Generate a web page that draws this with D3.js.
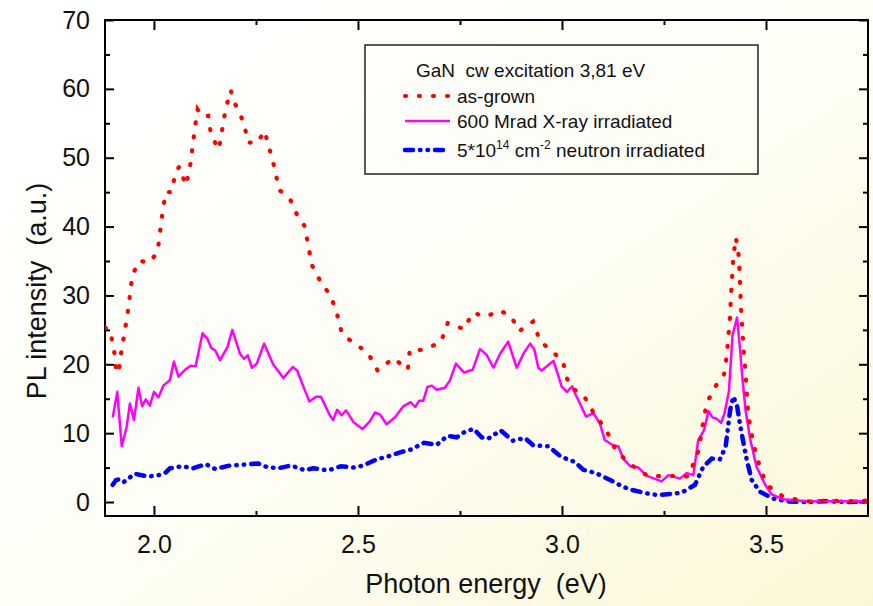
<!DOCTYPE html>
<html>
<head>
<meta charset="utf-8">
<script src="https://cdn.jsdelivr.net/npm/d3@7"></script>
<style>
  body { margin: 0; padding: 0; }
  svg text { font-family: "Liberation Sans", Arial, sans-serif; fill: #111; white-space: pre; }
</style>
</head>
<body>
<div id="my_dataviz"></div>
<script>
// as-grown (red dots)
var grownE = [1.880,1.892,1.902,1.907,1.913,1.919,1.927,1.935,1.941,1.947,1.963,1.990,2.009,2.015,2.021,2.029,2.043,2.053,2.062,2.078,2.088,2.094,2.100,2.107,2.118,2.133,2.140,2.159,2.167,2.175,2.188,2.199,2.221,2.230,2.254,2.271,2.284,2.297,2.306,2.335,2.350,2.370,2.378,2.388,2.411,2.433,2.449,2.461,2.487,2.524,2.548,2.587,2.622,2.627,2.644,2.664,2.703,2.720,2.760,2.781,2.814,2.846,2.874,2.895,2.929,2.946,2.971,3.002,3.013,3.025,3.053,3.077,3.109,3.132,3.167,3.212,3.261,3.310,3.335,3.346,3.355,3.375,3.397,3.404,3.408,3.412,3.414,3.417,3.420,3.426,3.432,3.435,3.437,3.439,3.442,3.445,3.449,3.452,3.455,3.461,3.471,3.485,3.501,3.544,3.600,3.650,3.700,3.748];
var grownI = [25.3,25.0,22.2,19.3,18.7,21.5,24.3,27.2,30.0,32.9,35.0,34.8,36.4,39.3,42.1,45.0,45.0,47.9,48.7,46.0,48.5,51.3,54.2,57.0,56.0,56.1,53.3,51.2,54.0,56.9,59.8,57.8,55.0,52.2,52.2,53.9,51.1,48.2,45.4,43.8,41.8,40.0,37.2,34.3,31.7,30.0,27.2,24.4,23.2,21.7,19.1,20.9,19.2,22.1,22.0,22.2,23.2,26.0,25.1,27.5,26.9,27.8,27.1,24.8,26.2,23.4,22.1,20.5,17.8,16.5,15.5,13.0,10.4,7.5,5.5,3.7,3.8,3.7,7.5,11.6,14.4,16.7,18.5,21.3,24.2,27.0,29.8,32.7,35.6,38.4,36.5,33.7,30.8,27.9,25.1,22.2,19.5,16.7,13.8,10.9,8.0,5.1,2.5,0.7,0.1,0.2,0.1,0.2];

// 600 Mrad X-ray irradiated (magenta)
var xrayE = [1.899,1.910,1.921,1.933,1.941,1.951,1.962,1.971,1.980,1.990,2.000,2.011,2.023,2.039,2.049,2.060,2.076,2.090,2.102,2.119,2.131,2.140,2.150,2.162,2.180,2.192,2.211,2.221,2.230,2.240,2.252,2.270,2.292,2.317,2.340,2.351,2.366,2.381,2.397,2.409,2.431,2.439,2.449,2.460,2.471,2.489,2.511,2.529,2.542,2.554,2.570,2.591,2.611,2.629,2.640,2.650,2.660,2.670,2.681,2.693,2.713,2.725,2.740,2.760,2.781,2.799,2.815,2.832,2.848,2.868,2.889,2.907,2.922,2.932,2.942,2.950,2.979,2.987,2.999,3.012,3.025,3.034,3.044,3.059,3.077,3.093,3.105,3.126,3.138,3.150,3.167,3.187,3.208,3.244,3.261,3.289,3.306,3.322,3.334,3.348,3.359,3.369,3.379,3.390,3.398,3.409,3.418,3.429,3.436,3.442,3.450,3.461,3.477,3.498,3.514,3.542,3.600,3.650,3.700,3.748];
var xrayI = [12.3,16.0,8.1,10.9,14.3,11.9,16.6,13.9,14.9,14.0,16.0,15.2,16.9,17.7,20.4,18.2,19.2,19.8,19.7,24.5,23.7,22.4,22.0,20.6,22.5,25.0,21.5,20.8,21.3,19.5,20.1,23.0,20.0,18.0,19.6,19.1,16.8,14.6,15.3,15.3,12.6,11.9,13.4,12.6,13.3,11.6,10.6,11.7,13.0,12.7,11.3,12.3,13.9,14.5,13.8,14.7,14.7,16.7,16.9,16.3,16.6,17.6,20.1,18.8,19.2,22.2,21.4,19.5,21.5,23.3,19.5,21.7,23.0,22.2,19.5,19.1,20.5,19.1,16.8,16.0,16.8,15.5,14.3,12.4,12.9,11.4,9.0,8.2,8.1,6.3,5.2,5.0,3.8,3.0,3.9,3.4,4.2,3.9,9.0,10.4,13.2,12.3,12.1,11.5,12.8,16.0,24.2,26.8,22.5,18.1,13.3,9.2,5.1,2.5,1.1,0.4,0.1,0.1,0.1,0.1];

// 5*10^14 cm^-2 neutron irradiated (blue dash-dot)
var neutronE = [1.899,1.907,1.917,1.926,1.953,1.986,2.011,2.027,2.039,2.068,2.096,2.127,2.150,2.186,2.215,2.255,2.276,2.305,2.336,2.370,2.390,2.427,2.458,2.489,2.513,2.546,2.577,2.603,2.629,2.662,2.693,2.719,2.742,2.765,2.784,2.803,2.819,2.850,2.879,2.909,2.930,2.967,2.997,3.032,3.052,3.083,3.118,3.150,3.175,3.208,3.236,3.269,3.293,3.326,3.346,3.367,3.387,3.401,3.412,3.420,3.429,3.436,3.445,3.453,3.465,3.485,3.518,3.551,3.600,3.650,3.700,3.748];
var neutronI = [2.5,3.2,3.3,2.9,4.1,3.7,3.9,4.2,4.9,5.2,4.9,5.5,4.8,5.3,5.4,5.6,5.1,4.9,5.3,4.6,4.9,4.6,5.2,5.0,5.3,6.2,6.7,7.2,7.6,8.6,8.3,9.6,9.4,10.3,10.6,9.4,9.2,10.4,8.9,9.3,8.2,8.1,6.6,5.8,4.7,4.2,3.2,2.2,1.7,1.25,1.0,1.2,1.35,2.5,5.1,6.3,6.2,8.0,13.3,15.3,14.0,11.4,8.5,6.1,3.2,1.5,0.5,0.1,0.0,0.1,0.0,0.1];

var xMajor = [2.0, 2.5, 3.0, 3.5];
var xMinor = [2.25, 2.75, 3.25];
var yMajor = [0, 10, 20, 30, 40, 50, 60, 70];
var yMinor = [5, 15, 25, 35, 45, 55, 65];

var margin = {top: 20, right: 5, bottom: 90, left: 105},
width = 873 - margin.left - margin.right,
height = 606 - margin.top - margin.bottom;

var dotDash = '1,13';
var dashDotDot = '8,7,0.5,7,0.5,7';

var root = d3.select('#my_dataviz')
  .append('svg')
    .attr('width', 873)
    .attr('height', 606);

// page background, white fading to pale yellow
var grad = root.append('defs').append('linearGradient')
  .attr('id', 'bg').attr('x1', '0').attr('y1', '0').attr('x2', '1').attr('y2', '1');
grad.append('stop').attr('offset', '0%').attr('stop-color', '#ffffff');
grad.append('stop').attr('offset', '50%').attr('stop-color', '#fefef7');
grad.append('stop').attr('offset', '100%').attr('stop-color', '#fbf7d6');
root.append('rect').attr('width', 873).attr('height', 606).attr('fill', 'url(#bg)');

root.select('defs').append('clipPath').attr('id', 'clip')
  .append('rect').attr('width', width).attr('height', height);

var svg = root.append('g')
  .attr('transform', 'translate(' + margin.left + ',' + margin.top + ')');

var x = d3.scaleLinear().domain([1.88, 3.75]).range([0, width]);
var y = d3.scaleLinear().domain([-2.03, 70]).range([height, 0]);

// axes: ticks point inward, mirrored on top and right
svg.append('g')
  .attr('transform', 'translate(0,' + height + ')')
  .call(d3.axisBottom(x).tickValues(xMajor).tickSize(-10).tickPadding(19).tickFormat(d3.format('.1f')));
svg.append('g')
  .attr('transform', 'translate(0,' + height + ')')
  .call(d3.axisBottom(x).tickValues(xMinor).tickSize(-5).tickFormat(''));
svg.append('g')
  .call(d3.axisTop(x).tickValues(xMajor).tickSize(-10).tickFormat(''));
svg.append('g')
  .call(d3.axisTop(x).tickValues(xMinor).tickSize(-5).tickFormat(''));
svg.append('g')
  .call(d3.axisLeft(y).tickValues(yMajor).tickSize(-9).tickPadding(15));
svg.append('g')
  .call(d3.axisLeft(y).tickValues(yMinor).tickSize(-5).tickFormat(''));
svg.append('g')
  .attr('transform', 'translate(' + width + ',0)')
  .call(d3.axisRight(y).tickValues(yMajor).tickSize(-9).tickFormat(''));
svg.append('g')
  .attr('transform', 'translate(' + width + ',0)')
  .call(d3.axisRight(y).tickValues(yMinor).tickSize(-5).tickFormat(''));

svg.selectAll('.domain').remove();
svg.selectAll('.tick line').attr('stroke', '#000').attr('stroke-width', 2);
svg.selectAll('.tick text')
  .style('font-size', '25px')
  .style('font-family', '"Liberation Sans", Arial, sans-serif')
  .attr('fill', '#111');

svg.append('rect')
  .attr('width', width).attr('height', height)
  .attr('fill', 'none').attr('stroke', '#000').attr('stroke-width', 2);

// curves
function makeLine(es, is) {
  return d3.line()
    .x(function(d, i) { return x(es[i]); })
    .y(function(d, i) { return y(is[i]); })(es);
}
var plot = svg.append('g').attr('clip-path', 'url(#clip)');

plot.append('path')
  .attr('d', makeLine(neutronE, neutronI))
  .attr('fill', 'none').attr('stroke', '#0000ff')
  .attr('stroke-width', 4.5).attr('stroke-linecap', 'round')
  .attr('stroke-dasharray', dashDotDot);

plot.append('path')
  .attr('d', makeLine(xrayE, xrayI))
  .attr('fill', 'none').attr('stroke', '#ff00ff')
  .attr('stroke-width', 2.5).attr('stroke-linejoin', 'round');

plot.append('path')
  .attr('d', makeLine(grownE, grownI))
  .attr('fill', 'none').attr('stroke', '#ff0000')
  .attr('stroke-width', 4.2).attr('stroke-linecap', 'round')
  .attr('stroke-dasharray', dotDash);

// axis titles
root.append('text')
  .attr('x', 486).attr('y', 593)
  .style('text-anchor', 'middle')
  .style('font-size', '27px')
  .text('Photon energy  (eV)');

root.append('text')
  .attr('transform', 'translate(46,291) rotate(-90)')
  .style('text-anchor', 'middle')
  .style('font-size', '27px')
  .text('PL intensity  (a.u.)');

// legend
var lg = root.append('g');
lg.append('rect')
  .attr('x', 365).attr('y', 45).attr('width', 393).attr('height', 129)
  .attr('fill', 'none').attr('stroke', '#222').attr('stroke-width', 1.5);
lg.append('text').attr('x', 416).attr('y', 77).style('font-size', '19px')
  .text('GaN  cw excitation 3,81 eV');

var rows = [
  {yy: 96, color: '#ff0000', w: 4.2, dash: dotDash, cap: 'round', label: 'as-grown'},
  {yy: 121, color: '#ff00ff', w: 2.5, dash: null, cap: 'butt', label: '600 Mrad X-ray irradiated'},
  {yy: 150, color: '#0000ff', w: 4.5, dash: dashDotDot, cap: 'round', label: null}
];
rows.forEach(function(r) {
  lg.append('line')
    .attr('x1', 405).attr('x2', 450).attr('y1', r.yy).attr('y2', r.yy)
    .attr('stroke', r.color).attr('stroke-width', r.w)
    .attr('stroke-linecap', r.cap)
    .attr('stroke-dasharray', r.dash);
  if (r.label) {
    lg.append('text').attr('x', 457).attr('y', r.yy + 7).style('font-size', '19px').text(r.label);
  }
});
var t = lg.append('text').attr('x', 457).attr('y', 157).style('font-size', '19px');
t.append('tspan').text('5*10');
t.append('tspan').attr('dy', -8).style('font-size', '12px').text('14');
t.append('tspan').attr('dy', 8).text(' cm');
t.append('tspan').attr('dy', -8).style('font-size', '12px').text('-2');
t.append('tspan').attr('dy', 8).text(' neutron irradiated');
</script>
</body>
</html>
